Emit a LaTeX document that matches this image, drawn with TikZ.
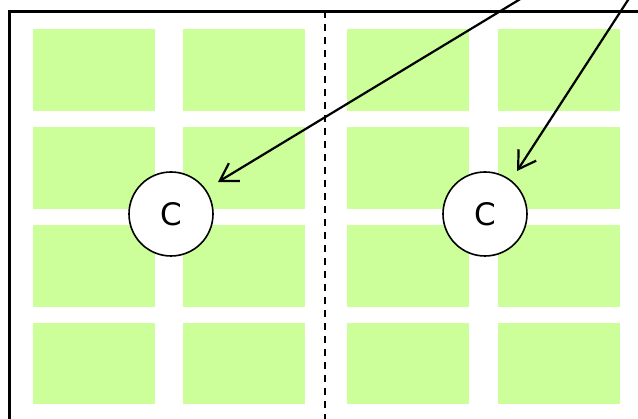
\documentclass[tikz,border=0pt]{standalone}
\usepackage{fontspec}
\setmainfont{DejaVu Sans}
\usetikzlibrary{arrows.meta}
\definecolor{cellgreen}{HTML}{CCFF99}
\tikzset{
  cell/.style={fill=cellgreen, draw=none, inner sep=0pt, minimum width=122pt, minimum height=81.5pt, anchor=north west},
  cnode/.style={circle, draw=black, line width=1.6pt, fill=white, minimum size=84pt, inner sep=0pt, font=\fontsize{31}{31}\selectfont},
  conn/.style={line width=2.2pt, -{Straight Barb[length=17pt,width=21pt,line width=2.2pt]}},
}
\begin{document}
\begin{tikzpicture}[x=1pt,y=-1pt]
\useasboundingbox (0,0) rectangle (638,419);
\clip (0,0) rectangle (638,419);
% cells
\foreach \cx [count=\i] in {33,183,347,498}{
  \foreach \cy [count=\j] in {29,127,225,322.5}{
    \node[cell] (g\i\j) at (\cx,\cy) {};
  }
}
% border
\draw[line width=2.4pt] (9.5,440) -- (9.5,11.5) -- (660,11.5);
% divider
\coordinate (dtop) at (325,11.5);
\coordinate (dbot) at (325,430);
\draw[line width=1.6pt, dash pattern=on 7pt off 6pt] (dtop) -- (dbot);
% circles
\node[cnode] (c1) at (171,214) {C};
\node[cnode] (c2) at (485,214) {C};
% arrows
\coordinate (s1) at (560,-25);
\coordinate (e1) at (218,182);
\coordinate (s2) at (641,-20);
\coordinate (e2) at (517,171);
\draw[conn] (s1) -- (e1);
\draw[conn] (s2) -- (e2);
\end{tikzpicture}
\end{document}
